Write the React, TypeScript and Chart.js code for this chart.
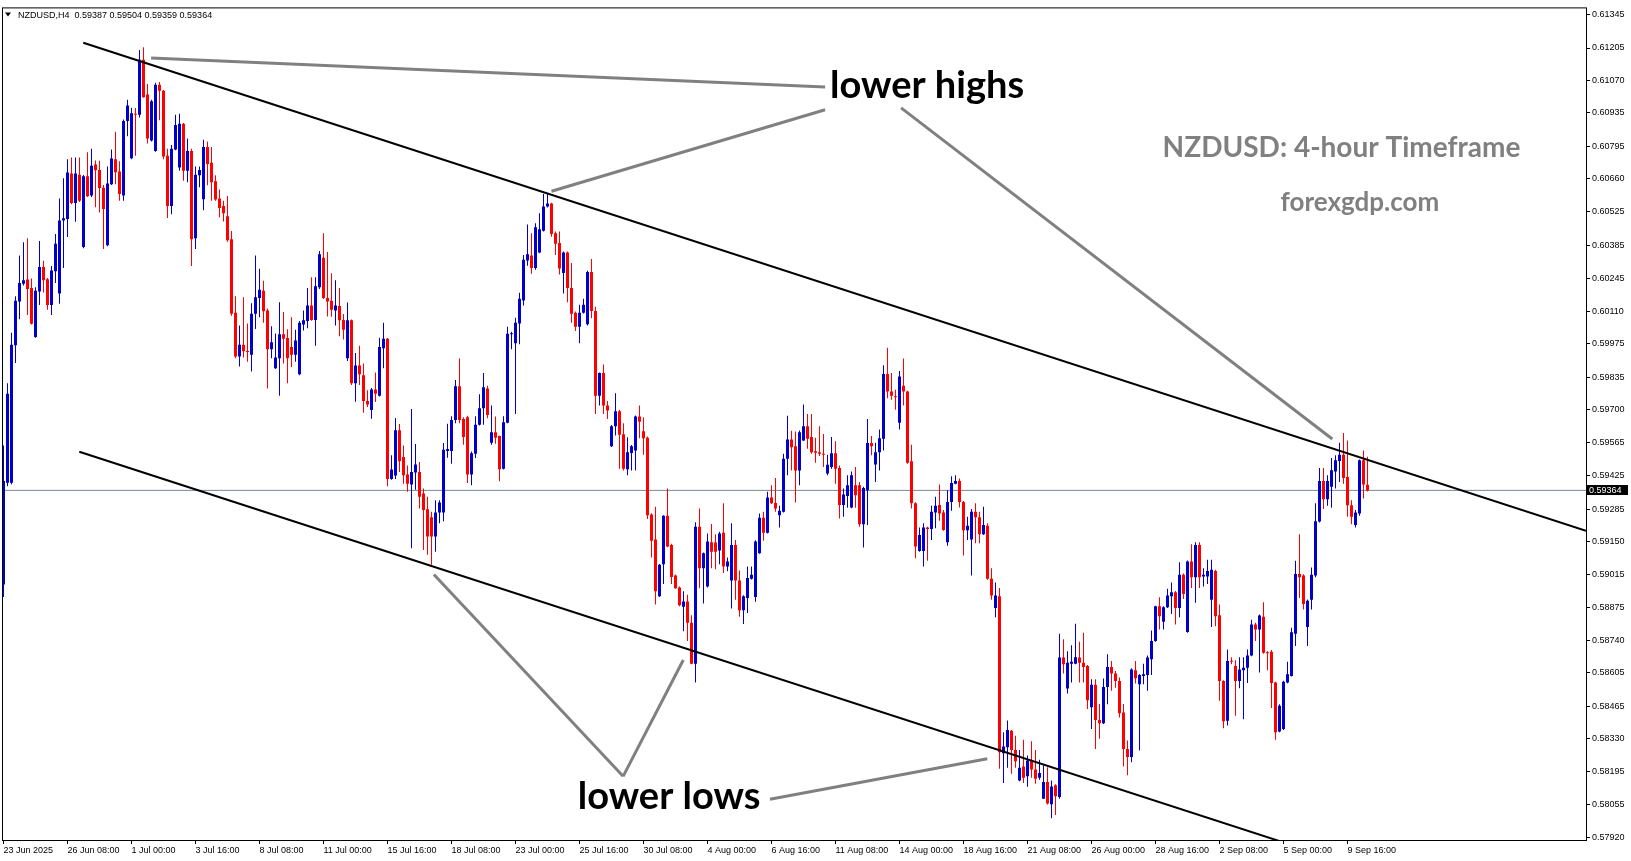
import React, { useEffect, useRef } from 'react';
import { Chart, registerables } from 'chart.js';
Chart.register(...registerables);

// ---------- data (H4 bars, index 0 = 23 Jun 2025 16:00) ----------
const opens = [
0.58972,0.59396,0.59396,0.59968,0.60150,0.60224,0.60242,0.60206,0.60002,0.60192,
0.60294,0.60243,0.60136,0.60276,0.60183,0.60487,0.60493,0.60683,0.60560,0.60678,
0.60377,0.60671,0.60591,0.60720,0.60697,0.60623,0.60384,0.60638,0.60742,0.60691,
0.60591,0.60901,0.60746,0.60931,0.60927,0.61156,0.61011,0.60820,0.60776,0.61052,
0.61027,0.60757,0.60547,0.60783,0.60708,0.60890,0.60694,0.60776,0.60413,0.60675,
0.60576,0.60793,0.60727,0.60650,0.60579,0.60547,0.60505,0.60409,0.60103,0.59921,
0.59970,0.59943,0.59928,0.60099,0.60165,0.60195,0.60113,0.59951,0.59872,0.59914,
0.60014,0.59998,0.59961,0.59928,0.59847,0.60054,0.60069,0.60133,0.60073,0.60209,
0.60332,0.60165,0.60153,0.60113,0.60131,0.60073,0.59914,0.60072,0.59810,0.59884,
0.59843,0.59736,0.59699,0.59784,0.59758,0.59955,0.59995,0.59411,0.59426,0.59614,
0.59503,0.59430,0.59388,0.59438,0.59441,0.59351,0.59285,0.59252,0.59172,0.59272,
0.59272,0.59528,0.59528,0.59657,0.59797,0.59661,0.59668,0.59430,0.59516,0.59637,
0.59706,0.59788,0.59562,0.59606,0.59590,0.59454,0.59645,0.60014,0.59976,0.60059,
0.60154,0.60321,0.60342,0.60289,0.60354,0.60445,0.60545,0.60558,0.60434,0.60393,
0.60269,0.60354,0.60206,0.60103,0.60045,0.60103,0.60055,0.60273,0.60110,0.59758,
0.59852,0.59717,0.59548,0.59631,0.59693,0.59598,0.59452,0.59520,0.59530,0.59671,
0.59610,0.59583,0.59264,0.59160,0.58923,0.59057,0.59258,0.59137,0.59010,0.58960,
0.58880,0.58902,0.58813,0.58643,0.59213,0.59040,0.58964,0.59148,0.59147,0.59114,
0.59188,0.59047,0.58989,0.59137,0.58989,0.58865,0.58916,0.58996,0.58920,0.59102,
0.59250,0.59188,0.59334,0.59312,0.59261,0.59275,0.59496,0.59576,0.59548,0.59447,
0.59572,0.59631,0.59586,0.59527,0.59523,0.59516,0.59434,0.59461,0.59519,0.59457,
0.59303,0.59341,0.59293,0.59385,0.59385,0.59223,0.59365,0.59561,0.59472,0.59523,
0.59579,0.59848,0.59775,0.59755,0.59645,0.59799,0.59775,0.59485,0.59310,0.59112,
0.59112,0.59210,0.59203,0.59272,0.59303,0.59272,0.59148,0.59316,0.59392,0.59403,
0.59316,0.59198,0.59160,0.59275,0.59252,0.59181,0.59217,0.58996,0.58875,0.58923,
0.58270,0.58295,0.58364,0.58284,0.58157,0.58215,0.58174,0.58240,0.58202,0.58168,
0.58081,0.58150,0.58058,0.58137,0.58088,0.58668,0.58539,0.58643,0.58643,0.58668,
0.58647,0.58633,0.58461,0.58555,0.58408,0.58395,0.58546,0.58629,0.58602,0.58571,
0.58440,0.58288,0.58254,0.58615,0.58557,0.58592,0.58596,0.58661,0.58737,0.58882,
0.58817,0.58878,0.58923,0.58940,0.58875,0.59013,0.58775,0.59068,0.59002,0.59137,
0.59006,0.59006,0.58909,0.59029,0.58844,0.58571,0.58405,0.58654,0.58633,0.58571,
0.58615,0.58626,0.58677,0.58806,0.58785,0.58838,0.58690,0.58692,0.58564,0.58361,
0.58371,0.58564,0.58592,0.58767,0.59016,0.59010,0.58795,0.58909,0.59010,0.59234,
0.59403,0.59327,0.59379,0.59443,0.59486,0.59512,0.59420,0.59302,0.59220,0.59268,
0.59489,0.59387];

const highs = [
0.59551,0.59810,0.60020,0.60172,0.60342,0.60397,0.60413,0.60246,0.60209,0.60402,
0.60320,0.60248,0.60298,0.60431,0.60579,0.60663,0.60742,0.60749,0.60749,0.60749,
0.60676,0.60771,0.60786,0.60737,0.60736,0.60635,0.60712,0.60783,0.60857,0.60734,
0.60907,0.60990,0.60956,0.60955,0.61197,0.61208,0.61055,0.60990,0.61060,0.61064,
0.61030,0.60786,0.60801,0.60927,0.60931,0.60893,0.60828,0.60786,0.60712,0.60712,
0.60823,0.60816,0.60793,0.60675,0.60616,0.60569,0.60589,0.60443,0.60172,0.60050,
0.60168,0.60059,0.60143,0.60342,0.60286,0.60236,0.60121,0.60047,0.60017,0.60147,
0.60106,0.60035,0.60084,0.60032,0.60069,0.60113,0.60206,0.60251,0.60251,0.60360,
0.60434,0.60356,0.60268,0.60239,0.60206,0.60098,0.60146,0.60075,0.59936,0.59966,
0.59892,0.59781,0.59790,0.59855,0.59999,0.60062,0.59998,0.59510,0.59665,0.59640,
0.59551,0.59468,0.59703,0.59557,0.59482,0.59372,0.59337,0.59275,0.59323,0.59323,
0.59561,0.59641,0.59672,0.59823,0.59913,0.59668,0.59675,0.59526,0.59672,0.59764,
0.59852,0.59799,0.59717,0.59671,0.59592,0.59672,0.60045,0.60024,0.60082,0.60186,
0.60344,0.60471,0.60434,0.60476,0.60517,0.60597,0.60597,0.60561,0.60441,0.60441,
0.60358,0.60358,0.60310,0.60108,0.60137,0.60162,0.60278,0.60327,0.60128,0.59855,
0.59888,0.59736,0.59636,0.59768,0.59698,0.59643,0.59585,0.59553,0.59676,0.59717,
0.59668,0.59588,0.59269,0.59296,0.59058,0.59261,0.59372,0.59142,0.59014,0.58964,
0.58944,0.58930,0.58844,0.59231,0.59289,0.59105,0.59185,0.59224,0.59181,0.59192,
0.59310,0.59085,0.59227,0.59158,0.59031,0.58928,0.59047,0.59047,0.59156,0.59268,
0.59275,0.59358,0.59385,0.59416,0.59300,0.59516,0.59675,0.59612,0.59609,0.59613,
0.59721,0.59682,0.59682,0.59583,0.59631,0.59599,0.59512,0.59586,0.59568,0.59468,
0.59372,0.59427,0.59443,0.59461,0.59399,0.59379,0.59661,0.59590,0.59562,0.59617,
0.59885,0.59958,0.59852,0.59783,0.59861,0.59913,0.59779,0.59554,0.59315,0.59210,
0.59227,0.59213,0.59300,0.59337,0.59388,0.59282,0.59365,0.59423,0.59427,0.59413,
0.59320,0.59254,0.59286,0.59310,0.59275,0.59296,0.59227,0.59040,0.58981,0.58958,
0.58357,0.58406,0.58367,0.58343,0.58284,0.58326,0.58261,0.58320,0.58284,0.58243,
0.58219,0.58212,0.58157,0.58141,0.58767,0.58744,0.58695,0.58720,0.58809,0.58734,
0.58771,0.58637,0.58578,0.58578,0.58475,0.58581,0.58682,0.58654,0.58612,0.58585,
0.58475,0.58323,0.58624,0.58654,0.58600,0.58643,0.58677,0.58781,0.58884,0.58919,
0.58882,0.58955,0.58981,0.58945,0.59065,0.59018,0.59072,0.59140,0.59148,0.59148,
0.59040,0.59075,0.59075,0.59034,0.58889,0.58574,0.58702,0.58670,0.58657,0.58670,
0.58670,0.58702,0.58826,0.58813,0.58847,0.58898,0.58695,0.58700,0.58568,0.58474,
0.58572,0.58651,0.58792,0.59071,0.59181,0.59015,0.58910,0.59043,0.59310,0.59457,
0.59457,0.59427,0.59499,0.59510,0.59562,0.59603,0.59572,0.59323,0.59282,0.59493,
0.59530,0.59504];

const lows = [
0.58920,0.59381,0.59390,0.59894,0.60076,0.60217,0.60094,0.60054,0.59999,0.60136,
0.60187,0.60116,0.60094,0.60227,0.60141,0.60289,0.60419,0.60555,0.60482,0.60564,
0.60372,0.60585,0.60585,0.60542,0.60520,0.60369,0.60380,0.60635,0.60638,0.60569,
0.60569,0.60838,0.60742,0.60757,0.60916,0.60998,0.60808,0.60816,0.60773,0.60904,
0.60742,0.60498,0.60513,0.60780,0.60694,0.60653,0.60646,0.60298,0.60369,0.60626,
0.60530,0.60634,0.60569,0.60569,0.60501,0.60483,0.60399,0.60091,0.59914,0.59880,
0.59917,0.59899,0.59859,0.60036,0.60084,0.60062,0.59788,0.59914,0.59869,0.59758,
0.59892,0.59810,0.59877,0.59899,0.59843,0.60029,0.60039,0.60070,0.59966,0.60202,
0.60160,0.60088,0.60087,0.60050,0.60005,0.59992,0.59902,0.59803,0.59733,0.59803,
0.59687,0.59711,0.59662,0.59732,0.59755,0.59872,0.59381,0.59408,0.59411,0.59441,
0.59392,0.59358,0.59123,0.59367,0.59289,0.59116,0.59096,0.59054,0.59109,0.59227,
0.59236,0.59500,0.59475,0.59643,0.59643,0.59554,0.59395,0.59385,0.59499,0.59634,
0.59637,0.59664,0.59554,0.59558,0.59402,0.59451,0.59643,0.59951,0.59682,0.59972,
0.60133,0.60299,0.60266,0.60282,0.60351,0.60441,0.60541,0.60420,0.60344,0.60262,
0.60183,0.60147,0.60062,0.60027,0.59976,0.60100,0.60050,0.60080,0.59682,0.59717,
0.59682,0.59661,0.59545,0.59592,0.59454,0.59447,0.59427,0.59447,0.59447,0.59581,
0.59512,0.59245,0.59085,0.58889,0.58920,0.58974,0.59127,0.58974,0.58955,0.58882,
0.58778,0.58737,0.58640,0.58564,0.58957,0.58893,0.58960,0.59040,0.59036,0.59057,
0.59020,0.59027,0.58872,0.58909,0.58838,0.58808,0.58854,0.58993,0.58900,0.59100,
0.59154,0.59185,0.59307,0.59275,0.59210,0.59272,0.59427,0.59447,0.59314,0.59385,
0.59569,0.59537,0.59516,0.59479,0.59507,0.59461,0.59427,0.59454,0.59392,0.59247,
0.59254,0.59292,0.59290,0.59292,0.59213,0.59126,0.59220,0.59510,0.59399,0.59447,
0.59530,0.59747,0.59741,0.59700,0.59617,0.59717,0.59475,0.59289,0.59082,0.59109,
0.59047,0.59071,0.59158,0.59206,0.59238,0.59196,0.59134,0.59279,0.59389,0.59293,
0.59093,0.59158,0.59010,0.59144,0.59144,0.59178,0.58992,0.58909,0.58836,0.58205,
0.58146,0.58210,0.58185,0.58210,0.58153,0.58146,0.58131,0.58168,0.58143,0.58160,
0.58080,0.58057,0.57999,0.58013,0.58081,0.58602,0.58519,0.58564,0.58640,0.58564,
0.58564,0.58454,0.58371,0.58288,0.58330,0.58392,0.58474,0.58530,0.58543,0.58419,
0.58215,0.58178,0.58233,0.58560,0.58281,0.58557,0.58530,0.58596,0.58734,0.58785,
0.58785,0.58875,0.58850,0.58806,0.58836,0.58912,0.58772,0.58958,0.58896,0.58958,
0.58964,0.58974,0.58795,0.58799,0.58488,0.58374,0.58385,0.58640,0.58426,0.58541,
0.58412,0.58562,0.58674,0.58737,0.58606,0.58684,0.58615,0.58458,0.58326,0.58357,
0.58367,0.58561,0.58589,0.58716,0.58916,0.58868,0.58716,0.58868,0.59002,0.59230,
0.59286,0.59300,0.59292,0.59372,0.59399,0.59392,0.59254,0.59223,0.59209,0.59258,
0.59330,0.59359];

const closes = [
0.59403,0.59766,0.59970,0.60153,0.60227,0.60239,0.60202,0.60057,0.60195,0.60294,
0.60239,0.60136,0.60279,0.60390,0.60487,0.60496,0.60687,0.60560,0.60683,0.60569,
0.60671,0.60588,0.60715,0.60696,0.60622,0.60535,0.60641,0.60745,0.60688,0.60597,
0.60901,0.60966,0.60934,0.60927,0.61156,0.61000,0.60828,0.60983,0.61052,0.61027,
0.60754,0.60547,0.60786,0.60885,0.60890,0.60694,0.60776,0.60409,0.60678,0.60697,
0.60793,0.60722,0.60646,0.60575,0.60539,0.60517,0.60405,0.60099,0.59921,0.59970,
0.59943,0.59940,0.60099,0.60168,0.60199,0.60109,0.59951,0.59980,0.59917,0.60014,
0.59995,0.59914,0.59928,0.59988,0.60062,0.60072,0.60133,0.60073,0.60214,0.60347,
0.60165,0.60150,0.60116,0.60133,0.60072,0.60032,0.60072,0.59810,0.59884,0.59847,
0.59736,0.59721,0.59784,0.59766,0.59961,0.59995,0.59411,0.59451,0.59614,0.59485,
0.59427,0.59392,0.59441,0.59472,0.59337,0.59282,0.59172,0.59172,0.59272,0.59314,
0.59533,0.59536,0.59657,0.59797,0.59657,0.59586,0.59430,0.59519,0.59637,0.59706,
0.59793,0.59678,0.59606,0.59583,0.59452,0.59648,0.60016,0.60017,0.60062,0.60162,
0.60324,0.60347,0.60289,0.60459,0.60451,0.60545,0.60558,0.60431,0.60390,0.60287,
0.60354,0.60206,0.60099,0.60045,0.60103,0.60137,0.60273,0.60110,0.59758,0.59852,
0.59717,0.59696,0.59631,0.59693,0.59595,0.59454,0.59523,0.59548,0.59671,0.59650,
0.59581,0.59261,0.59154,0.58944,0.59054,0.59258,0.59130,0.59003,0.58957,0.58886,
0.58902,0.58813,0.58643,0.59213,0.59040,0.59102,0.59151,0.59109,0.59109,0.59185,
0.59047,0.59068,0.59137,0.58989,0.58865,0.58923,0.58999,0.59013,0.59151,0.59250,
0.59188,0.59334,0.59310,0.59289,0.59279,0.59496,0.59576,0.59544,0.59447,0.59606,
0.59631,0.59579,0.59523,0.59521,0.59516,0.59512,0.59471,0.59519,0.59454,0.59303,
0.59347,0.59385,0.59427,0.59344,0.59223,0.59374,0.59561,0.59548,0.59523,0.59581,
0.59848,0.59775,0.59758,0.59752,0.59838,0.59775,0.59479,0.59310,0.59130,0.59178,
0.59210,0.59203,0.59275,0.59300,0.59268,0.59199,0.59316,0.59395,0.59403,0.59316,
0.59198,0.59217,0.59275,0.59252,0.59181,0.59220,0.58996,0.58927,0.58927,0.58274,
0.58298,0.58367,0.58284,0.58237,0.58210,0.58168,0.58240,0.58202,0.58164,0.58188,
0.58150,0.58061,0.58132,0.58091,0.58668,0.58640,0.58647,0.58651,0.58670,0.58647,
0.58629,0.58491,0.58555,0.58408,0.58395,0.58546,0.58629,0.58602,0.58571,0.58436,
0.58288,0.58254,0.58619,0.58582,0.58596,0.58599,0.58668,0.58737,0.58882,0.58840,
0.58878,0.58927,0.58940,0.58875,0.59013,0.58933,0.59068,0.59002,0.59137,0.59002,
0.59013,0.59029,0.59034,0.58840,0.58571,0.58403,0.58654,0.58651,0.58571,0.58619,
0.58626,0.58677,0.58806,0.58785,0.58843,0.58688,0.58686,0.58562,0.58357,0.58468,
0.58568,0.58599,0.58774,0.59016,0.59002,0.58891,0.58905,0.59013,0.59236,0.59403,
0.59327,0.59403,0.59448,0.59489,0.59512,0.59416,0.59302,0.59254,0.59272,0.59489,
0.59388,0.59364];

const xTickBars = [0, 16, 32, 48, 64, 80, 96, 112, 128, 144, 160, 176, 192, 208, 224, 240, 256, 272, 288, 304, 320, 336];
const xTickLabels = [
  '23 Jun 2025', '26 Jun 08:00', '1 Jul 00:00', '3 Jul 16:00', '8 Jul 08:00', '11 Jul 00:00',
  '15 Jul 16:00', '18 Jul 08:00', '23 Jul 00:00', '25 Jul 16:00', '30 Jul 08:00', '4 Aug 00:00',
  '6 Aug 16:00', '11 Aug 08:00', '14 Aug 00:00', '18 Aug 16:00', '21 Aug 08:00', '26 Aug 00:00',
  '28 Aug 16:00', '2 Sep 08:00', '5 Sep 00:00', '9 Sep 16:00'];
const yTickValues = [
  0.61345, 0.61205, 0.61070, 0.60935, 0.60795, 0.60660, 0.60525, 0.60385, 0.60245, 0.60110,
  0.59975, 0.59835, 0.59700, 0.59565, 0.59425, 0.59285, 0.59150, 0.59015, 0.58875, 0.58740,
  0.58605, 0.58465, 0.58330, 0.58195, 0.58055, 0.57920];

const symbolHeader = 'NZDUSD,H4  0.59387 0.59504 0.59359 0.59364';
const lastPrice = 0.59364;

// drawn objects, in (bar index, price)
const upperChannel = [{ x: 19.95, y: 0.61227 }, { x: 395.625, y: 0.59196 }];
const lowerChannel = [{ x: 18.95, y: 0.59525 }, { x: 320, y: 0.57899 }];
const callouts = [
  [{ x: 36.9, y: 0.61163 }, { x: 205.4, y: 0.61043 }],
  [{ x: 137.0, y: 0.60609 }, { x: 205.4, y: 0.60948 }],
  [{ x: 224.4, y: 0.60956 }, { x: 332.2, y: 0.59578 }],
  [{ x: 107.6, y: 0.59014 }, { x: 154.9, y: 0.58174 }],
  [{ x: 154.9, y: 0.58174 }, { x: 169.95, y: 0.58658 }],
  [{ x: 191.6, y: 0.58079 }, { x: 245.95, y: 0.58247 }],
];
const notes = [
  { text: 'lower highs', x: 230.9, y: 0.60996, font: 'bold 38px Lato', color: '#000000' },
  { text: 'lower lows', x: 166.4, y: 0.58037, font: 'bold 38px Lato', color: '#000000' },
  { text: 'NZDUSD: 4-hour Timeframe', x: 334.5, y: 0.60750, font: 'bold 28px Lato', color: '#808080' },
  { text: 'forexgdp.com', x: 339.1, y: 0.60527, font: 'bold 26px Lato', color: '#808080' },
];

const X_MIN = -0.375;
const X_MAX = 395.625;
const Y_MIN = 0.57909;
const Y_MAX = 0.61374;
const BULL = '#0000CD';
const BEAR = '#FF0000';
const AXIS_FONT = { family: 'Liberation Sans', size: 9 };

const overlayPlugin = {
  id: 'overlay',
  afterDatasetsDraw(chart: any) {
    const { ctx, scales } = chart;
    const x = scales.x, y = scales.y;
    ctx.save();
    ctx.textAlign = 'center';
    ctx.textBaseline = 'alphabetic';
    for (const n of notes) {
      ctx.font = n.font;
      ctx.fillStyle = n.color;
      ctx.fillText(n.text, x.getPixelForValue(n.x), y.getPixelForValue(n.y));
    }
    ctx.restore();
  },
  afterDraw(chart: any) {
    const { ctx, chartArea: a, scales } = chart;
    const y = scales.y;
    ctx.save();
    // frame
    ctx.strokeStyle = '#000';
    ctx.lineWidth = 1;
    ctx.strokeRect(a.left + 0.5, a.top + 0.5, a.right - a.left, a.bottom - a.top);
    // header
    ctx.fillStyle = '#000';
    ctx.beginPath();
    ctx.moveTo(a.left + 3, a.top + 5);
    ctx.lineTo(a.left + 9, a.top + 5);
    ctx.lineTo(a.left + 6, a.top + 9);
    ctx.closePath();
    ctx.fill();
    ctx.font = '9px "Liberation Sans"';
    ctx.textAlign = 'left';
    ctx.textBaseline = 'middle';
    ctx.fillText(symbolHeader, a.left + 16, a.top + 8);
    // last price box
    const py = y.getPixelForValue(lastPrice);
    ctx.fillStyle = '#000';
    ctx.fillRect(a.right + 1, Math.round(py) - 5, 41, 10);
    ctx.fillStyle = '#fff';
    ctx.font = '9px "Liberation Sans"';
    ctx.fillText(lastPrice.toFixed(5), a.right + 3, py + 0.5);
    ctx.restore();
  },
};

export default function App() {
  const ref = useRef<HTMLCanvasElement>(null);
  useEffect(() => {
    document.body.style.margin = '0';
    const colors = closes.map((c, i) => (c >= opens[i] ? BULL : BEAR));
    const bodies = opens.map((o, i) => ({ x: i, y: [o, closes[i]] }));
    const wicks = highs.map((h, i) => ({
      x: i,
      y: [Math.min(lows[i], opens[i], closes[i]), Math.max(h, opens[i], closes[i])],
    }));
    const lineDs = (data: any[], color: string, width: number, order: number) => ({
      type: 'line' as const,
      data,
      borderColor: color,
      borderWidth: width,
      pointRadius: 0,
      fill: false,
      tension: 0,
      order,
    });
    const chart = new Chart(ref.current as HTMLCanvasElement, {
      type: 'bar',
      data: {
        datasets: [
          lineDs(upperChannel, '#000000', 2, 0),
          lineDs(lowerChannel, '#000000', 2, 0),
          ...callouts.map((c) => lineDs(c, '#808080', 3, 0)),
          {
            type: 'bar',
            data: bodies as any,
            backgroundColor: colors,
            barThickness: 3,
            grouped: false,
            minBarLength: 1,
            borderWidth: 0,
            inflateAmount: 0,
            order: 1,
          } as any,
          {
            type: 'bar',
            data: wicks as any,
            backgroundColor: colors,
            barThickness: 1,
            grouped: false,
            borderWidth: 0,
            inflateAmount: 0,
            order: 2,
          } as any,
          lineDs([{ x: X_MIN, y: lastPrice }, { x: X_MAX, y: lastPrice }], '#778899', 1, 3),
        ],
      },
      options: {
        animation: false,
        responsive: false,
        maintainAspectRatio: false,
        events: [],
        layout: { padding: { left: 2, top: 3, right: 0, bottom: 0 } },
        plugins: { legend: { display: false }, tooltip: { enabled: false } },
        scales: {
          x: {
            type: 'linear',
            min: X_MIN,
            max: X_MAX,
            offset: false,
            grid: { display: true, drawOnChartArea: false, drawTicks: true, tickLength: 4, color: '#000', offset: false },
            border: { display: false },
            ticks: {
              autoSkip: false,
              maxRotation: 0,
              minRotation: 0,
              align: 'start',
              padding: 1,
              color: '#000',
              font: AXIS_FONT,
              callback: (_v: any, idx: number) => xTickLabels[idx],
            },
            afterBuildTicks: (s: any) => {
              s.ticks = xTickBars.map((v) => ({ value: v }));
            },
            afterFit: (s: any) => {
              s.height = 21;
            },
          },
          y: {
            type: 'linear',
            position: 'right',
            min: Y_MIN,
            max: Y_MAX,
            grid: { display: true, drawOnChartArea: false, drawTicks: true, tickLength: 4, color: '#000' },
            border: { display: false },
            ticks: {
              padding: 2,
              color: '#000',
              font: AXIS_FONT,
              callback: (v: any) => Number(v).toFixed(5),
            },
            afterBuildTicks: (s: any) => {
              s.ticks = yTickValues.map((v) => ({ value: v }));
            },
            afterFit: (s: any) => {
              s.width = 45;
            },
          },
        },
      } as any,
      plugins: [overlayPlugin],
    });
    return () => chart.destroy();
  }, []);
  return (
    <canvas
      ref={ref}
      width={1631}
      height={861}
      style={{ display: 'block', width: '1631px', height: '861px' }}
    />
  );
}
